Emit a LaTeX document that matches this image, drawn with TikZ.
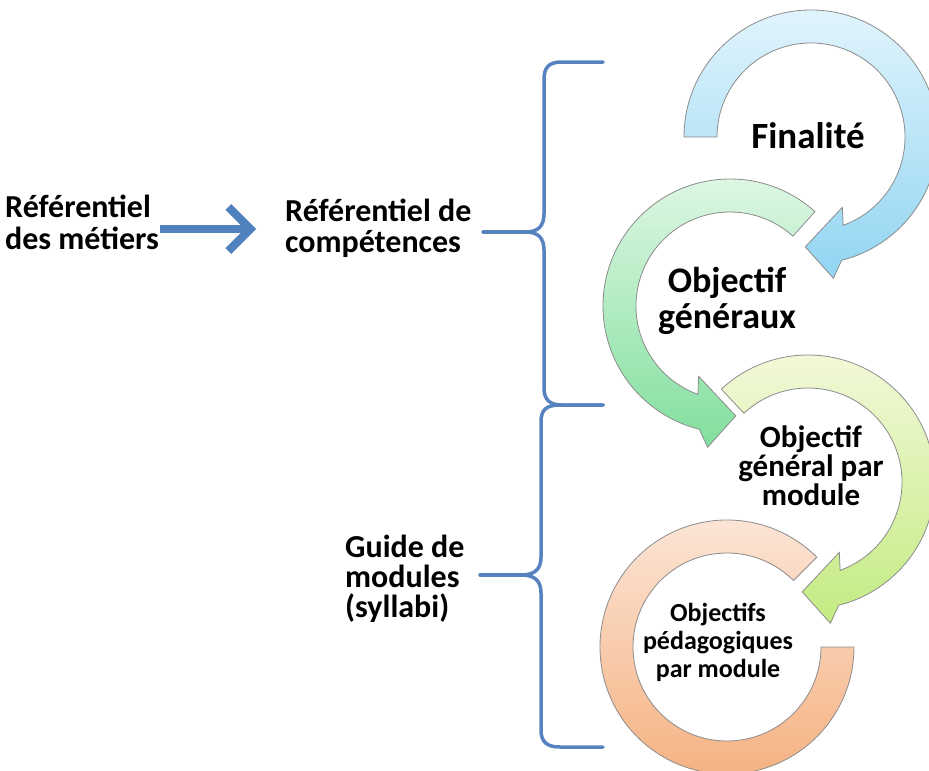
\documentclass[tikz,border=0pt]{standalone}
\usepackage{fontspec}
\setmainfont{Carlito}
\usetikzlibrary{arrows.meta}
\definecolor{braceblue}{HTML}{5683BF}
\definecolor{arrowblue}{HTML}{4F81BD}
\definecolor{blueA}{HTML}{E0F4FC}
\definecolor{blueB}{HTML}{92D5F2}
\definecolor{greenA}{HTML}{E2F8E6}
\definecolor{greenB}{HTML}{82DF9E}
\definecolor{yellowA}{HTML}{F4F9DC}
\definecolor{yellowB}{HTML}{C3EB82}
\definecolor{orangeA}{HTML}{FCE7D9}
\definecolor{orangeB}{HTML}{F5B07F}
\tikzset{
  ring/.style={draw=black!45, line width=0.8pt},
  lbl/.style={inner sep=0pt, text=black},
  bracestyle/.style={draw=braceblue, line width=3.5pt, line cap=round, line join=round},
  bigarrow/.style={draw=arrowblue, line width=8pt, -{Straight Barb[length=22pt,width=44pt]}},
}
\begin{document}
\begin{tikzpicture}[x=1pt,y=-1pt]
\useasboundingbox (0,0) rectangle (929,771);
\clip (0,0) rectangle (929,771);
\fill[white] (0,0) rectangle (929,771);

% orange ring (no head)
\begin{scope}[shift={(727,647)}]
\path[ring, top color=orangeA, bottom color=orangeB]
  (315:127) arc[start angle=315, end angle=0, radius=127]
  -- (0:94) arc[start angle=0, end angle=315, radius=94] -- cycle;
\end{scope}
% yellow ring
\begin{scope}[shift={(808,482)}]
\path[ring, top color=yellowA, bottom color=yellowB]
  (227:127) arc[start angle=227, end angle=436, radius=127]
  -- (441:143) -- (453:110) -- (426:77) -- (430:94)
  arc[start angle=430, end angle=227, radius=94] -- cycle;
\end{scope}
% green ring
\begin{scope}[shift={(730,306)}]
\path[ring, top color=greenA, bottom color=greenB]
  (312:127) arc[start angle=312, end angle=104, radius=127]
  -- (99:143) -- (87:110) -- (114:77) -- (110:94)
  arc[start angle=110, end angle=312, radius=94] -- cycle;
\end{scope}
% blue ring
\begin{scope}[shift={(811,137)}]
\path[ring, top color=blueA, bottom color=blueB]
  (180:127) arc[start angle=180, end angle=436, radius=127]
  -- (441:143) -- (453:110) -- (426:77) -- (430:94)
  arc[start angle=430, end angle=180, radius=94] -- cycle;
\end{scope}

% texts in the rings (anchor base = baseline of the last line)
\node[lbl, anchor=base, font=\fontsize{37}{38}\selectfont\bfseries] (fin) at (808,148) {Finalité};
\node[lbl, anchor=base, align=center, font=\fontsize{36}{36}\selectfont\bfseries] (og) at (727,328) {Objectif\\généraux};
\node[lbl, anchor=base, align=center, font=\fontsize{31}{29}\selectfont\bfseries] (ogm) at (811,505) {Objectif\\général par\\module};
\node[lbl, anchor=base, align=center, font=\fontsize{26}{28}\selectfont\bfseries] (opm) at (718,677) {Objectifs\\pédagogiques\\par module};

% left texts
\node[lbl, anchor=base west, align=left, font=\fontsize{32}{32}\selectfont\bfseries] (metiers) at (5,249) {Référentiel\\des métiers};
\node[lbl, anchor=base west, align=left, font=\fontsize{32}{31}\selectfont\bfseries] (comp) at (285,252) {Référentiel de\\compétences};
\node[lbl, anchor=base west, align=left, font=\fontsize{32}{30}\selectfont\bfseries] (guide) at (345,617) {Guide de\\modules\\(syllabi)};

% arrow between the two referentials
\coordinate (a1) at (160,229);
\coordinate (a2) at (256,229);
\draw[bigarrow] (a1) -- (a2);

% braces
\coordinate (cusp1) at (526,232);
\coordinate (cusp2) at (521,575);
\draw[bracestyle] (603,62) -- (562,62) .. controls (548,62) and (544,68) .. (544,80)
  -- (544,214) .. controls (544,226) and (538,232) .. (cusp1)
  .. controls (538,232) and (544,238) .. (544,250)
  -- (544,388) .. controls (544,400) and (550,405) .. (562,405) -- (603,405);
\draw[bracestyle] (603,405) -- (560,405) .. controls (546,405) and (541,410) .. (541,422)
  -- (541,557) .. controls (541,569) and (535,575) .. (cusp2)
  .. controls (535,575) and (541,581) .. (541,593)
  -- (541,730) .. controls (541,742) and (547,747) .. (560,747) -- (603,747);
\draw[bracestyle] (483,232) -- (cusp1);
\draw[bracestyle] (480,575) -- (cusp2);
\end{tikzpicture}
\end{document}
